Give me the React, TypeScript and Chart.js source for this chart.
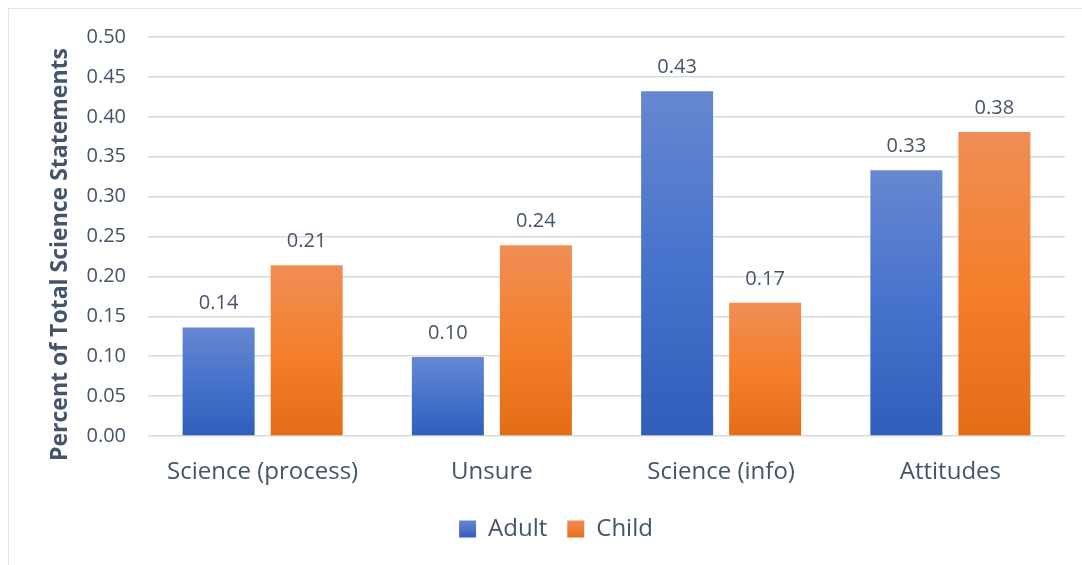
import React, { useEffect, useRef } from "react";
import { Chart, registerables } from "chart.js";

Chart.register(...registerables);

const categories = ["Science (process)", "Unsure", "Science (info)", "Attitudes"];
const adultValues = [0.136, 0.099, 0.432, 0.333];
const childValues = [0.214, 0.239, 0.167, 0.381];
const seriesNames = ["Adult", "Child"];
const yAxisTitle = "Percent of Total Science Statements";

const TEXT = "#44546a";
const GRID = "#d9d9d9";
const FONT = "'Open Sans', 'Noto Sans', sans-serif";

const blueStops = ["#6787d0", "#4673cc", "#2f5ebb"];
const orangeStops = ["#f08e55", "#f47f2c", "#e56c17"];

function barGradient(ctx: any, stops: string[]) {
  const chart = ctx.chart;
  const area = chart.chartArea;
  if (!area || ctx.type !== "data") return stops[1];
  const y = chart.scales.y;
  const v = ctx.raw as number;
  const top = y.getPixelForValue(v);
  const base = y.getPixelForValue(0);
  const g = chart.ctx.createLinearGradient(0, top, 0, base);
  g.addColorStop(0, stops[0]);
  g.addColorStop(0.5, stops[1]);
  g.addColorStop(1, stops[2]);
  return g;
}

function legendGradient(chart: any, stops: string[]) {
  const g = chart.ctx.createLinearGradient(0, 521, 0, 538);
  g.addColorStop(0, stops[0]);
  g.addColorStop(1, stops[2]);
  return g;
}

// Value labels above each bar, formatted from the bar's own value
const valueLabels = {
  id: "valueLabels",
  afterDatasetsDraw(chart: any) {
    const c = chart.ctx;
    c.save();
    c.fillStyle = TEXT;
    c.font = `20px ${FONT}`;
    c.textAlign = "center";
    c.textBaseline = "alphabetic";
    chart.data.datasets.forEach((ds: any, i: number) => {
      const meta = chart.getDatasetMeta(i);
      meta.data.forEach((bar: any, j: number) => {
        const v = ds.data[j] as number;
        c.fillText(v.toFixed(2), bar.x, bar.y - 18);
      });
    });
    c.restore();
  },
};

// Rotated value-axis title, centred a little below the plot's middle
const axisTitle = {
  id: "axisTitle",
  afterDraw(chart: any) {
    const c = chart.ctx;
    const area = chart.chartArea;
    c.save();
    c.fillStyle = TEXT;
    c.font = `bold 23px ${FONT}`;
    c.textAlign = "center";
    c.textBaseline = "middle";
    c.translate(60, (area.top + area.bottom) / 2 + 18);
    c.rotate(-Math.PI / 2);
    c.fillText(yAxisTitle, 0, 0);
    c.restore();
  },
};

export default function App() {
  const ref = useRef<HTMLCanvasElement>(null);

  useEffect(() => {
    if (!ref.current) return;
    const chart = new Chart(ref.current, {
      type: "bar",
      data: {
        labels: categories,
        datasets: [
          {
            label: seriesNames[0],
            data: adultValues,
            backgroundColor: (ctx: any) => barGradient(ctx, blueStops),
            categoryPercentage: 0.768,
            barPercentage: 0.818,
          },
          {
            label: seriesNames[1],
            data: childValues,
            backgroundColor: (ctx: any) => barGradient(ctx, orangeStops),
            categoryPercentage: 0.768,
            barPercentage: 0.818,
          },
        ],
      },
      options: {
        animation: false,
        responsive: false,
        layout: { padding: { left: 47, right: 17, top: 37, bottom: 14 } },
        plugins: {
          tooltip: { enabled: false },
          legend: {
            position: "bottom",
            labels: {
              color: TEXT,
              font: { family: FONT, size: 24 },
              boxWidth: 17,
              boxHeight: 17,
              padding: 20,
              generateLabels: (ch: any) =>
                seriesNames.map((name, i) => ({
                  text: name,
                  fillStyle: legendGradient(ch, i === 0 ? blueStops : orangeStops),
                  strokeStyle: "rgba(0,0,0,0)",
                  lineWidth: 0,
                  datasetIndex: i,
                  fontColor: TEXT,
                })),
            },
          },
        },
        scales: {
          x: {
            grid: { display: false, drawTicks: false },
            border: { display: false },
            ticks: { color: TEXT, font: { family: FONT, size: 24 }, padding: 22 },
            afterFit: (s: any) => {
              s.height = 61;
            },
          },
          y: {
            min: 0,
            max: 0.5,
            ticks: {
              stepSize: 0.05,
              color: TEXT,
              font: { family: FONT, size: 20 },
              padding: 22,
              callback: (v: any) => Number(v).toFixed(2),
            },
            grid: { color: GRID, lineWidth: 1.5, drawTicks: false },
            border: { display: false },
            afterFit: (s: any) => {
              s.width = 101;
            },
          },
        },
      },
      plugins: [valueLabels, axisTitle],
    });
    return () => chart.destroy();
  }, []);

  return (
    <div style={{ position: "absolute", left: 0, top: 0, width: 1082, height: 565, background: "#fff", overflow: "hidden" }}>
      <div
        style={{
          position: "absolute",
          left: 8,
          top: 8,
          width: 1100,
          height: 600,
          border: "1.5px solid #dfe3ea",
          boxSizing: "border-box",
        }}
      />
      <canvas ref={ref} width={1082} height={565} style={{ position: "absolute", left: 0, top: 0 }} />
    </div>
  );
}
